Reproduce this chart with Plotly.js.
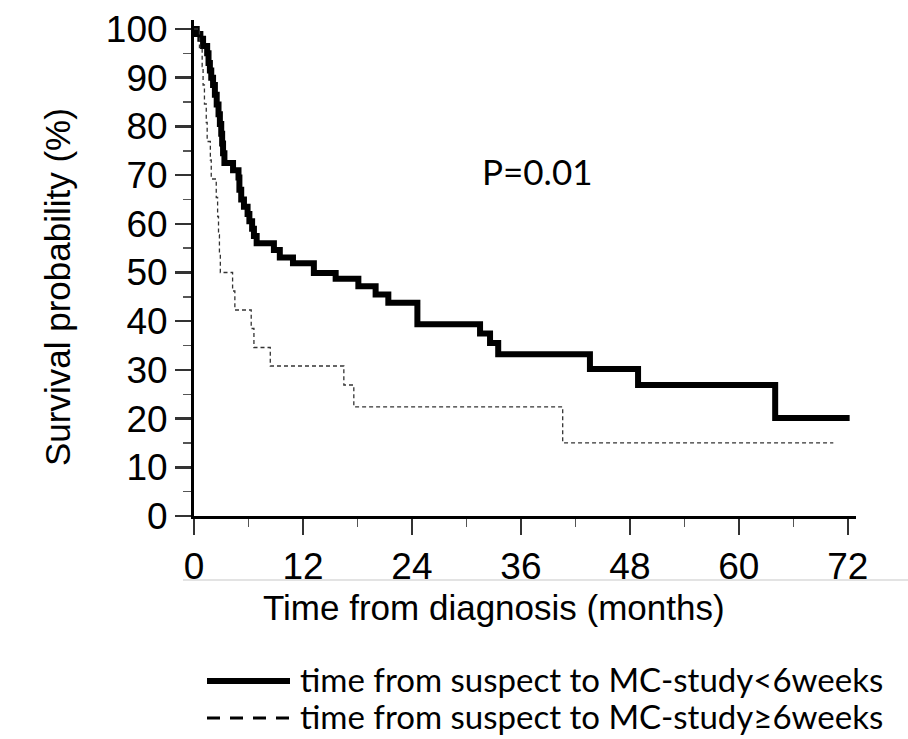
<!DOCTYPE html>
<html>
<head>
<meta charset="utf-8">
<script src="https://cdn.plot.ly/plotly-3.0.1.min.js"></script>
<style>html,body{margin:0;padding:0;background:#fff;}#chart{width:908px;height:739px;}</style>
</head>
<body>
<div id="chart"></div>
<script>
// Group 1: time from suspect to MC-study < 6 weeks (step points: months, survival %)
const earlyTime = [0, 0.3, 0.7, 1.0, 1.45, 1.6, 1.75, 1.9, 2.1, 2.3, 2.5, 2.7, 2.85, 3.0, 3.1, 3.2, 3.35, 4.3, 4.9, 5.0, 5.2, 5.5, 5.9, 6.1, 6.4, 6.6, 6.9, 8.8, 9.45, 10.9, 13.2, 15.6, 18.1, 20.0, 21.4, 24.6, 31.5, 32.6, 33.5, 43.6, 48.9, 64.0, 72.2];
const earlySurv = [100, 99, 98, 96.5, 95, 93, 91.5, 90, 88.5, 86.5, 84.5, 82.5, 80.5, 78.5, 76.5, 74.5, 72.5, 71, 69.5, 67, 65, 63.5, 62, 60.5, 59, 57.5, 56, 54.6, 53.1, 51.9, 49.9, 48.7, 47.2, 45.5, 43.8, 39.4, 37.5, 35.5, 33.2, 30.2, 26.9, 20.1, 20.1];

// Group 2: time from suspect to MC-study >= 6 weeks
const lateTime = [0, 0.6, 0.9, 1.0, 1.15, 1.35, 1.45, 1.8, 1.9, 2.45, 2.6, 2.7, 2.8, 2.9, 4.25, 4.5, 6.3, 6.6, 8.4, 16.5, 17.6, 40.6, 70.4];
const lateSurv = [100, 96.2, 92.3, 88.5, 84.6, 80.8, 76.9, 73.1, 69.2, 65.4, 61.5, 57.7, 53.8, 50.0, 46.2, 42.3, 38.5, 34.6, 30.8, 26.9, 22.4, 15.0, 15.0];

const xTicks = [0, 12, 24, 36, 48, 60, 72];
const yTicks = [0, 10, 20, 30, 40, 50, 60, 70, 80, 90, 100];
const seriesNames = ['time from suspect to MC-study<6weeks', 'time from suspect to MC-study\u22656weeks'];
const xTitle = 'Time from diagnosis (months)';
const yTitle = 'Survival probability (%)';
const pText = 'P=0.01';

const W = 908, H = 739;
const M = {l: 194, r: 52, t: 20, b: 223};
const pw = W - M.l - M.r, ph = H - M.t - M.b;
const px = v => (v - M.l) / pw;        // pixel -> paper x
const py = v => (H - M.b - v) / ph;    // pixel -> paper y

const tickFont = {family: 'Liberation Sans, Arial, sans-serif', size: 37, color: '#000'};
const xTitleFont = {family: 'Liberation Sans, Arial, sans-serif', size: 35, color: '#000'};
const yTitleFont = {family: 'Liberation Sans, Arial, sans-serif', size: 35, color: '#000'};
const legFont = {family: 'Lato, Open Sans, sans-serif', size: 33, color: '#000'};

const traces = [
  {x: earlyTime, y: earlySurv, type: 'scatter', mode: 'lines', name: seriesNames[0],
   line: {shape: 'hv', color: '#000', width: 6}, showlegend: false},
  {x: lateTime, y: lateSurv, type: 'scatter', mode: 'lines', name: seriesNames[1],
   line: {shape: 'hv', color: '#333', width: 1.3, dash: '4px,3px'}, showlegend: false}
];

const layout = {
  width: W, height: H,
  margin: M,
  paper_bgcolor: '#fff', plot_bgcolor: '#fff',
  showlegend: false,
  xaxis: {
    range: [0, 72.9], tickvals: xTicks, ticktext: xTicks.map(String),
    showgrid: false, zeroline: false, showline: true, linecolor: '#000', linewidth: 2.5,
    ticks: 'outside', ticklen: 16, tickwidth: 2.5, tickcolor: '#333',
    minor: {dtick: 6, tick0: 0, ticks: 'outside', ticklen: 8, tickwidth: 1.5, tickcolor: '#555'},
    tickfont: tickFont
  },
  yaxis: {
    range: [0, 101.85], tickvals: yTicks, ticktext: yTicks.map(String),
    showgrid: false, zeroline: false, showline: true, linecolor: '#000', linewidth: 3,
    ticks: 'outside', ticklen: 16, tickwidth: 2.5, tickcolor: '#333',
    minor: {dtick: 5, tick0: 0, ticks: 'outside', ticklen: 8, tickwidth: 1.5, tickcolor: '#555'},
    tickfont: tickFont
  },
  shapes: [
    {type: 'line', xref: 'paper', yref: 'paper', x0: px(183), x1: px(908), y0: py(580), y1: py(580),
     line: {color: '#c8c8c8', width: 1.2}},
    {type: 'line', xref: 'paper', yref: 'paper', x0: px(207), x1: px(290), y0: py(681), y1: py(681),
     line: {color: '#000', width: 6}},
    {type: 'line', xref: 'paper', yref: 'paper', x0: px(207), x1: px(290), y0: py(718), y1: py(718),
     line: {color: '#000', width: 3, dash: '13px,10px'}}
  ],
  annotations: [
    {text: xTitle, xref: 'paper', yref: 'paper', x: px(494), y: py(607), xanchor: 'center', yanchor: 'middle',
     showarrow: false, font: xTitleFont},
    {text: yTitle, xref: 'paper', yref: 'paper', x: px(57), y: py(287), xanchor: 'center', yanchor: 'middle',
     textangle: -90, showarrow: false, font: yTitleFont},
    {text: pText, xref: 'paper', yref: 'paper', x: px(537), y: py(171), xanchor: 'center', yanchor: 'middle',
     showarrow: false, font: {family: 'Lato, Open Sans, sans-serif', size: 35, color: '#000'}},
    {text: seriesNames[0], xref: 'paper', yref: 'paper', x: px(298), y: py(679), xanchor: 'left', yanchor: 'middle',
     showarrow: false, font: legFont},
    {text: seriesNames[1], xref: 'paper', yref: 'paper', x: px(298), y: py(716), xanchor: 'left', yanchor: 'middle',
     showarrow: false, font: legFont}
  ]
};

Plotly.newPlot('chart', traces, layout, {displayModeBar: false, staticPlot: true});
</script>
</body>
</html>
